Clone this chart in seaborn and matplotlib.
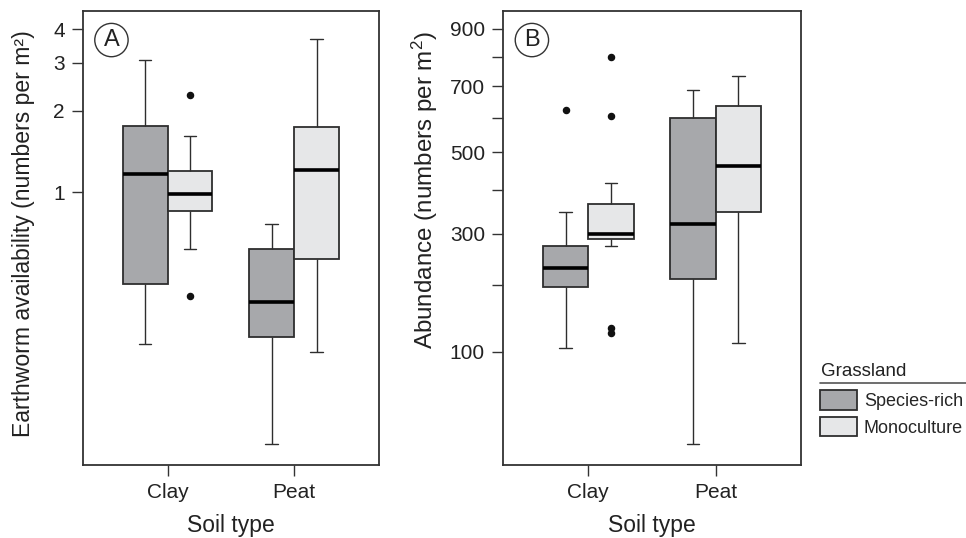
import numpy as np
import pandas as pd
import matplotlib
matplotlib.use("Agg")
import matplotlib.pyplot as plt
from matplotlib.lines import Line2D
from matplotlib.ticker import NullLocator, FixedLocator
import seaborn as sns

# ---------------- data ----------------
soil_types = ["Clay", "Peat"]
grassland = ["Species-rich", "Monoculture"]
group_soil = ["Clay", "Clay", "Peat", "Peat"]
group_grass = ["Species-rich", "Monoculture", "Species-rich", "Monoculture"]

# Panel A: earthworm availability (numbers per m2), log axis
a_whislo = [0.277, 0.619, 0.118, 0.258]
a_q1 = [0.461, 0.856, 0.293, 0.570]
a_med = [1.165, 0.986, 0.395, 1.21]
a_q3 = [1.755, 1.20, 0.619, 1.745]
a_whishi = [3.07, 1.61, 0.767, 3.66]
a_fliers = [[], [0.417, 2.29], [], []]

# Panel B: abundance (numbers per m2), square-root axis
b_whislo = [105, 275, 18.7, 112]
b_q1 = [196, 289, 210, 349]
b_med = [231, 299, 321, 463]
b_q3 = [275, 366, 600, 636]
b_whishi = [349, 419, 687, 735]
b_fliers = [[623], [125, 132, 606, 800], [], []]

a_ticks = [1, 2, 3, 4]
b_ticks = [100, 300, 500, 700, 900]
b_minor = [200, 400, 600, 800]

colors = {"Species-rich": "#a7a8ab", "Monoculture": "#e6e7e8"}


def observations(whislo, q1, med, q3, whishi, fliers):
    """Build observations whose quartiles/whiskers equal the read statistics."""
    rows = []
    for i in range(len(group_soil)):
        lows = [whislo[i]] + [f for f in fliers[i] if f < q1[i]]
        highs = [whishi[i]] + [f for f in fliers[i] if f > q3[i]]
        while len(lows) < len(highs):
            lows.append(whislo[i])
        while len(highs) < len(lows):
            highs.append(whishi[i])
        k = 10
        vals = lows + [q1[i]] * k + [med[i]] + [q3[i]] * k + highs
        for v in vals:
            rows.append({"Soil type": group_soil[i], "Grassland": group_grass[i], "value": v})
    return pd.DataFrame(rows)


df_a = observations(a_whislo, a_q1, a_med, a_q3, a_whishi, a_fliers)
df_b = observations(b_whislo, b_q1, b_med, b_q3, b_whishi, b_fliers)

# ---------------- style ----------------
sns.set_style("ticks")
plt.rcParams["font.family"] = ["Liberation Sans", "DejaVu Sans"]
plt.rcParams["mathtext.fontset"] = "custom"
plt.rcParams["mathtext.rm"] = "Liberation Sans"
plt.rcParams["mathtext.it"] = "Liberation Sans:italic"
plt.rcParams["axes.edgecolor"] = "#333333"
plt.rcParams["axes.linewidth"] = 1.3

fig = plt.figure(figsize=(9.66, 5.38), dpi=100)
W, H = 966, 538
axA = fig.add_axes([82.7 / W, 1 - 465 / H, (379 - 82.7) / W, (465 - 11) / H])
axB = fig.add_axes([503 / W, 1 - 465 / H, (801 - 503) / W, (465 - 11) / H])

axA.set_yscale("log")
axB.set_yscale("function", functions=(lambda v: np.sqrt(np.clip(v, 0, None)), np.square))

box_kws = dict(
    x="Soil type", y="value", hue="Grassland", order=soil_types, hue_order=grassland,
    palette=colors, saturation=1, width=0.71, gap=0, dodge=True,
    linecolor="#2e2e2e", linewidth=1.3, capwidths=0.1,
    medianprops=dict(color="black", linewidth=2.6),
    whiskerprops=dict(color="#2e2e2e", linewidth=1.0),
    capprops=dict(color="#2e2e2e", linewidth=1.0),
    flierprops=dict(marker="o", markersize=4.4, markerfacecolor="#111111",
                    markeredgecolor="#111111"),
)
sns.boxplot(data=df_a, ax=axA, whis=1.5, legend=False, **box_kws)
sns.boxplot(data=df_b, ax=axB, whis=2.0, legend=True, **box_kws)

for ax in (axA, axB):
    ax.set_xlim(-0.67, 1.67)
    ax.set_xlabel("Soil type", fontsize=16.5, labelpad=8.5, color="#222222")
    ax.tick_params(axis="both", which="both", direction="out", length=8, width=1.0,
                   color="#333333", labelsize=15, pad=5, labelcolor="#222222")
    for s in ax.spines.values():
        s.set_visible(True)
        s.set_color("#333333")
        s.set_linewidth(1.3)

axA.set_ylim(0.099, 4.66)
axA.yaxis.set_major_locator(FixedLocator(a_ticks))
axA.set_yticklabels([str(t) for t in a_ticks])
axA.yaxis.set_minor_locator(NullLocator())
axA.set_ylabel("Earthworm availability (numbers per m²)", fontsize=16.6, labelpad=13,
               y=0.51, color="#222222")

axB.set_ylim(9.0, 968)
axB.yaxis.set_major_locator(FixedLocator(b_ticks))
axB.set_yticklabels([str(t) for t in b_ticks])
axB.yaxis.set_minor_locator(FixedLocator(b_minor))
axB.set_ylabel("Abundance (numbers per m$^2$)", fontsize=17.4, labelpad=7,
               y=0.606, color="#222222")

for ax, letter in ((axA, "A"), (axB, "B")):
    ax.text(0.097, 0.936, letter, transform=ax.transAxes, ha="center", va="center",
            fontsize=17, color="#222222",
            bbox=dict(boxstyle="circle,pad=0.24", fc="white", ec="#333333", lw=1.0))

# legend
sns.move_legend(axB, loc="upper left", bbox_to_anchor=(820 / W, 1 - 390 / H),
                bbox_transform=fig.transFigure, frameon=False, title=None,
                fontsize=13, handlelength=2.05, handleheight=1.3,
                handletextpad=0.38, labelspacing=0.38, borderpad=0, borderaxespad=0)
fig.text(821 / W, 1 - 376 / H, "Grassland", fontsize=13.5, ha="left", va="baseline",
         color="#222222")
fig.add_artist(Line2D([820 / W, 1.0], [1 - 383 / H, 1 - 383 / H], transform=fig.transFigure,
                      color="#555555", lw=1.2))

fig.savefig("out.png", dpi=100)
